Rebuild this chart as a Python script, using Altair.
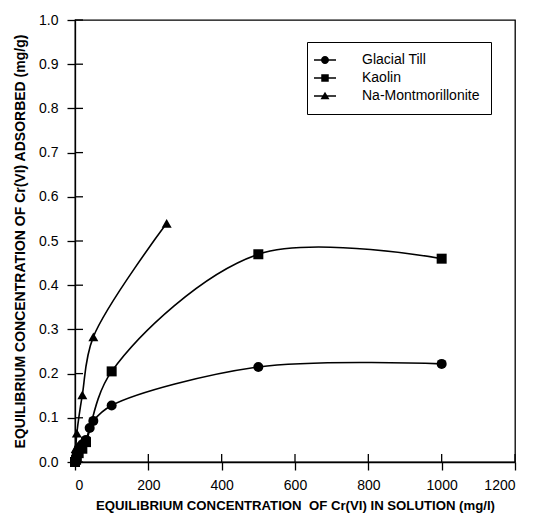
import altair as alt
import pandas as pd

series_names = ["Glacial Till", "Kaolin", "Na-Montmorillonite"]

gt_x = [0, 3, 5, 10, 15, 20, 30, 40, 50, 100, 500, 1000]
gt_y = [0.0, 0.01, 0.02, 0.03, 0.035, 0.04, 0.05, 0.077, 0.093, 0.128, 0.215, 0.222]

ka_x = [0, 3, 5, 10, 20, 30, 100, 500, 1000]
ka_y = [0.0, 0.005, 0.012, 0.02, 0.03, 0.045, 0.205, 0.47, 0.46]

nm_x = [0, 2, 5, 20, 50, 250]
nm_y = [0.0, 0.03, 0.065, 0.152, 0.283, 0.54]

x_ticks = [0, 200, 400, 600, 800, 1000, 1200]
y_ticks = [0.0, 0.1, 0.2, 0.3, 0.4, 0.5, 0.6, 0.7, 0.8, 0.9, 1.0]

rows = []
for name, xs, ys in zip(series_names, [gt_x, ka_x, nm_x], [gt_y, ka_y, nm_y]):
    for i, (a, b) in enumerate(zip(xs, ys)):
        rows.append({"series": name, "x": a, "y": b, "order": i})
df = pd.DataFrame(rows)

W, H = 440, 442
FONT = "Liberation Sans"

xscale = alt.Scale(domain=[0, 1200], nice=False)
yscale = alt.Scale(domain=[0, 1.0], nice=False)

xaxis = alt.Axis(values=x_ticks, format="d", grid=False, tickSize=8, tickColor="black",
                 domainColor="black", tickWidth=1.3, domainWidth=1.3,
                 labelFont=FONT, labelFontSize=14, labelColor="black", labelPadding=8,
                 title="EQUILIBRIUM CONCENTRATION\u00a0 OF Cr(VI) IN SOLUTION (mg/l)",
                 titleFont=FONT, titleFontSize=13.2, titleFontWeight="bold",
                 titleColor="black", titlePadding=7)
yaxis = alt.Axis(values=y_ticks, format=".1f", grid=False, tickSize=8, tickColor="black",
                 domainColor="black", tickWidth=1.3, domainWidth=1.3,
                 labelFont=FONT, labelFontSize=14, labelColor="black", labelPadding=9,
                 title="EQUILIBRIUM CONCENTRATION OF Cr(VI) ADSORBED (mg/g)",
                 titleFont=FONT, titleFontSize=14, titleFontWeight="bold",
                 titleColor="black", titlePadding=11)

base = alt.Chart(df)

lines = base.mark_line(color="black", strokeWidth=1.6, interpolate="catmull-rom").encode(
    x=alt.X("x:Q", scale=xscale, axis=xaxis),
    y=alt.Y("y:Q", scale=yscale, axis=yaxis),
    detail="series:N",
    order="order:Q",
)

shape_scale = alt.Scale(domain=series_names, range=["circle", "square", "triangle-up"])
points = base.mark_point(filled=True, color="black", opacity=1, size=100).encode(
    x=alt.X("x:Q", scale=xscale),
    y=alt.Y("y:Q", scale=yscale),
    shape=alt.Shape("series:N", scale=shape_scale, legend=None),
)

bar_path = "M-2.2,-0.15L2.2,-0.15L2.2,0.15L-2.2,0.15Z"
leg_paths = [
    bar_path + "M0.8,0A0.8,0.8,0,1,1,-0.8,0A0.8,0.8,0,1,1,0.8,0Z",
    bar_path + "M-0.75,-0.75L0.75,-0.75L0.75,0.75L-0.75,0.75Z",
    bar_path + "M0,-0.85L0.9,0.65L-0.9,0.65Z",
]
legend_layer = base.transform_filter("datum.x < -1").mark_point(
    filled=False, stroke="black", fill="black", fillOpacity=1, opacity=1,
    size=100, strokeWidth=0.5).encode(
    x=alt.X("x:Q", scale=xscale),
    y=alt.Y("y:Q", scale=yscale),
    shape=alt.Shape("series:N",
                    scale=alt.Scale(domain=series_names, range=leg_paths),
                    legend=alt.Legend(title=None, orient="none", legendX=232, legendY=22,
                                      labelFont=FONT, labelFontSize=14, labelColor="black",
                                      symbolSize=100, symbolFillColor="black",
                                      symbolStrokeColor="black", symbolStrokeWidth=0.5,
                                      symbolOpacity=1,
                                      labelOffset=30, rowPadding=4,
                                      padding=11, strokeColor="black", fillColor="white",
                                      offset=0)),
)

xt_df = pd.DataFrame({"t": x_ticks})
yt_df = pd.DataFrame({"t": y_ticks})
xin = alt.Chart(xt_df).mark_rule(color="black", strokeWidth=1.3).encode(
    x=alt.X("t:Q", scale=xscale), y=alt.value(H - 8), y2=alt.value(H))
yin = alt.Chart(yt_df).mark_rule(color="black", strokeWidth=1.3).encode(
    y=alt.Y("t:Q", scale=yscale), x=alt.value(0), x2=alt.value(8))

chart = alt.layer(xin, yin, lines, points, legend_layer).resolve_scale(
    shape="independent"
).properties(
    width=W, height=H, background="white"
).configure_view(stroke="black", strokeWidth=1.3)

chart.save("out.html", embed_options={"renderer": "svg", "actions": False})
